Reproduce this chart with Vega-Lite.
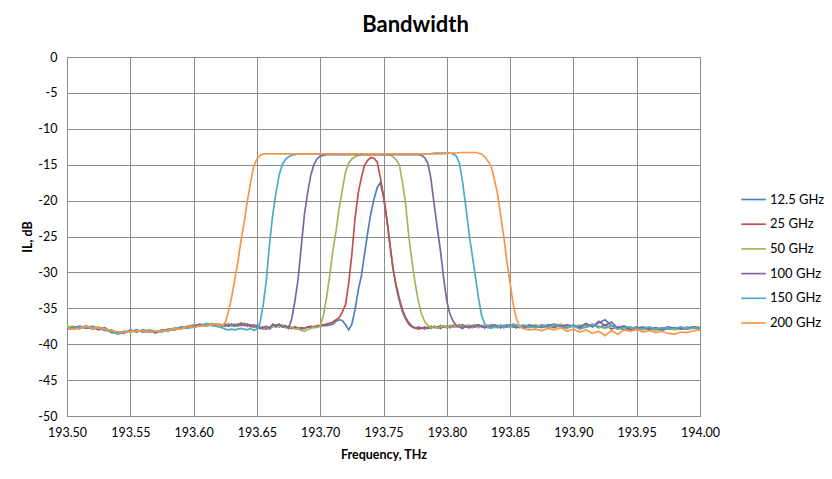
{
  "$schema": "https://vega.github.io/schema/vega-lite/v6.json",
  "autosize": {"type": "none"},
  "padding": {"left": 67, "top": 57, "right": 132, "bottom": 63},
  "width": 633,
  "height": 359,
  "background": "white",
  "title": {"text": "Bandwidth", "font": "Lato", "fontSize": 22, "fontWeight": "bold", "color": "#000000", "anchor": "middle", "frame": "group", "dx": 32, "offset": 14},
  "data": {"values": [
    {"f":193.500,"a":-37.9,"b":-37.7,"c":-37.6,"d":-37.8,"e":-37.9,"g":-37.7},
    {"f":193.505,"a":-37.6,"b":-37.9,"c":-37.5,"d":-37.7,"e":-37.8,"g":-37.9},
    {"f":193.510,"a":-37.8,"b":-37.6,"c":-37.9,"d":-37.5,"e":-37.6,"g":-37.8},
    {"f":193.515,"a":-37.5,"b":-37.7,"c":-37.4,"d":-37.8,"e":-37.7,"g":-37.5},
    {"f":193.520,"a":-37.9,"b":-37.6,"c":-37.8,"d":-37.6,"e":-37.5,"g":-37.8},
    {"f":193.525,"a":-37.7,"b":-38.0,"c":-37.6,"d":-37.9,"e":-37.8,"g":-37.7},
    {"f":193.530,"a":-38.1,"b":-37.8,"c":-38.0,"d":-37.7,"e":-38.0,"g":-37.9},
    {"f":193.535,"a":-38.0,"b":-38.3,"c":-38.1,"d":-38.4,"e":-38.2,"g":-38.1},
    {"f":193.540,"a":-38.5,"b":-38.3,"c":-38.6,"d":-38.4,"e":-38.6,"g":-38.3},
    {"f":193.545,"a":-38.2,"b":-38.4,"c":-38.2,"d":-38.5,"e":-38.3,"g":-38.4},
    {"f":193.550,"a":-38.3,"b":-38.1,"c":-38.3,"d":-38.0,"e":-38.2,"g":-38.2},
    {"f":193.555,"a":-38.0,"b":-38.2,"c":-38.1,"d":-38.3,"e":-38.0,"g":-38.2},
    {"f":193.560,"a":-38.3,"b":-38.1,"c":-38.2,"d":-38.0,"e":-38.3,"g":-38.1},
    {"f":193.565,"a":-38.1,"b":-38.3,"c":-38.0,"d":-38.2,"e":-38.1,"g":-38.3},
    {"f":193.570,"a":-38.4,"b":-38.2,"c":-38.3,"d":-38.4,"e":-38.2,"g":-38.2},
    {"f":193.575,"a":-38.0,"b":-38.2,"c":-38.1,"d":-38.0,"e":-38.3,"g":-38.1},
    {"f":193.580,"a":-38.1,"b":-37.9,"c":-38.2,"d":-38.0,"e":-37.9,"g":-38.1},
    {"f":193.585,"a":-37.8,"b":-38.0,"c":-37.7,"d":-37.9,"e":-38.0,"g":-37.8},
    {"f":193.590,"a":-37.9,"b":-37.6,"c":-37.8,"d":-37.7,"e":-37.6,"g":-37.9},
    {"f":193.595,"a":-37.5,"b":-37.7,"c":-37.5,"d":-37.6,"e":-37.8,"g":-37.5},
    {"f":193.600,"a":-37.4,"b":-37.6,"c":-37.3,"d":-37.5,"e":-37.6,"g":-37.7},
    {"f":193.605,"a":-37.5,"b":-37.3,"c":-37.4,"d":-37.2,"e":-37.5,"g":-37.4},
    {"f":193.610,"a":-37.2,"b":-37.4,"c":-37.3,"d":-37.4,"e":-37.1,"g":-37.5},
    {"f":193.615,"a":-37.4,"b":-37.2,"c":-37.1,"d":-37.3,"e":-37.4,"g":-37.2},
    {"f":193.6200,"a":-37.4,"b":-37.3,"c":-37.5,"d":-37.2,"e":-37.6,"g":-37.3},
    {"f":193.6225,"a":-37.3,"b":-37.5,"c":-37.3,"d":-37.4,"e":-37.7,"g":-37.4},
    {"f":193.6250,"a":-37.5,"b":-37.2,"c":-37.4,"d":-37.3,"e":-37.9,"g":-37.0},
    {"f":193.6275,"a":-37.2,"b":-37.4,"c":-37.1,"d":-37.5,"e":-38.0,"g":-35.5},
    {"f":193.6300,"a":-37.4,"b":-37.3,"c":-37.5,"d":-37.2,"e":-37.9,"g":-33.5},
    {"f":193.6325,"a":-37.3,"b":-37.5,"c":-37.2,"d":-37.4,"e":-38.0,"g":-31.0},
    {"f":193.6350,"a":-37.5,"b":-37.2,"c":-37.4,"d":-37.3,"e":-37.9,"g":-28.5},
    {"f":193.6375,"a":-37.2,"b":-37.4,"c":-37.0,"d":-37.1,"e":-37.8,"g":-25.5},
    {"f":193.6400,"a":-37.4,"b":-37.1,"c":-37.3,"d":-37.4,"e":-37.9,"g":-23.0},
    {"f":193.6425,"a":-37.3,"b":-37.5,"c":-37.2,"d":-37.2,"e":-38.0,"g":-20.0},
    {"f":193.6450,"a":-37.5,"b":-37.3,"c":-37.6,"d":-37.5,"e":-37.8,"g":-17.5},
    {"f":193.6475,"a":-37.6,"b":-37.6,"c":-37.4,"d":-37.3,"e":-38.1,"g":-15.2},
    {"f":193.6500,"a":-37.4,"b":-37.5,"c":-37.7,"d":-37.6,"e":-37.9,"g":-14.2},
    {"f":193.6525,"a":-37.7,"b":-37.8,"c":-37.5,"d":-37.8,"e":-37.0,"g":-13.7},
    {"f":193.6550,"a":-37.9,"b":-37.6,"c":-37.8,"d":-37.7,"e":-34.5,"g":-13.5},
    {"f":193.6575,"a":-37.8,"b":-37.9,"c":-37.6,"d":-37.5,"e":-31.0,"g":-13.5},
    {"f":193.6600,"a":-37.6,"b":-37.7,"c":-37.9,"d":-37.8,"e":-26.0,"g":-13.5},
    {"f":193.6625,"a":-37.5,"b":-37.4,"c":-37.6,"d":-37.2,"e":-22.0,"g":-13.5},
    {"f":193.6650,"a":-37.3,"b":-37.6,"c":-37.4,"d":-37.5,"e":-19.0,"g":-13.5},
    {"f":193.6675,"a":-37.6,"b":-37.3,"c":-37.5,"d":-37.2,"e":-16.5,"g":-13.5},
    {"f":193.6700,"a":-37.4,"b":-37.5,"c":-37.3,"d":-37.6,"e":-15.0,"g":-13.5},
    {"f":193.6725,"a":-37.5,"b":-37.7,"c":-37.6,"d":-37.4,"e":-14.3,"g":-13.5},
    {"f":193.6750,"a":-37.7,"b":-37.5,"c":-37.8,"d":-37.8,"e":-13.9,"g":-13.5},
    {"f":193.6775,"a":-37.8,"b":-37.8,"c":-37.6,"d":-36.5,"e":-13.7,"g":-13.5},
    {"f":193.6800,"a":-37.6,"b":-37.6,"c":-37.9,"d":-34.0,"e":-13.6,"g":-13.5},
    {"f":193.6825,"a":-37.7,"b":-37.9,"c":-37.8,"d":-31.0,"e":-13.5,"g":-13.5},
    {"f":193.6850,"a":-37.9,"b":-37.7,"c":-38.1,"d":-26.5,"e":-13.5,"g":-13.5},
    {"f":193.6875,"a":-37.8,"b":-37.8,"c":-38.2,"d":-22.0,"e":-13.5,"g":-13.5},
    {"f":193.6900,"a":-37.6,"b":-37.6,"c":-38.0,"d":-19.0,"e":-13.5,"g":-13.5},
    {"f":193.6925,"a":-37.7,"b":-37.5,"c":-37.8,"d":-16.5,"e":-13.5,"g":-13.5},
    {"f":193.6950,"a":-37.5,"b":-37.7,"c":-37.6,"d":-15.0,"e":-13.5,"g":-13.5},
    {"f":193.6975,"a":-37.6,"b":-37.4,"c":-37.7,"d":-14.2,"e":-13.5,"g":-13.5},
    {"f":193.7000,"a":-37.5,"b":-37.4,"c":-37.5,"d":-13.8,"e":-13.5,"g":-13.5},
    {"f":193.7025,"a":-37.4,"b":-37.3,"c":-36.0,"d":-13.7,"e":-13.5,"g":-13.5},
    {"f":193.7050,"a":-37.4,"b":-37.2,"c":-33.5,"d":-13.6,"e":-13.5,"g":-13.5},
    {"f":193.7075,"a":-37.3,"b":-37.1,"c":-30.5,"d":-13.6,"e":-13.5,"g":-13.5},
    {"f":193.7100,"a":-37.2,"b":-36.9,"c":-27.0,"d":-13.6,"e":-13.5,"g":-13.5},
    {"f":193.7125,"a":-36.8,"b":-36.6,"c":-24.3,"d":-13.6,"e":-13.5,"g":-13.5},
    {"f":193.7150,"a":-36.6,"b":-36.3,"c":-21.0,"d":-13.6,"e":-13.5,"g":-13.5},
    {"f":193.7175,"a":-36.7,"b":-35.5,"c":-18.5,"d":-13.6,"e":-13.5,"g":-13.5},
    {"f":193.7200,"a":-37.3,"b":-34.5,"c":-16.0,"d":-13.6,"e":-13.5,"g":-13.5},
    {"f":193.7225,"a":-38.0,"b":-31.5,"c":-14.8,"d":-13.6,"e":-13.5,"g":-13.5},
    {"f":193.7250,"a":-37.2,"b":-27.5,"c":-14.2,"d":-13.6,"e":-13.5,"g":-13.5},
    {"f":193.7275,"a":-35.2,"b":-22.5,"c":-13.9,"d":-13.6,"e":-13.5,"g":-13.5},
    {"f":193.7300,"a":-32.5,"b":-19.0,"c":-13.7,"d":-13.6,"e":-13.5,"g":-13.5},
    {"f":193.7325,"a":-30.5,"b":-16.8,"c":-13.6,"d":-13.6,"e":-13.5,"g":-13.5},
    {"f":193.7350,"a":-27.5,"b":-15.1,"c":-13.6,"d":-13.6,"e":-13.5,"g":-13.5},
    {"f":193.7375,"a":-24.5,"b":-14.4,"c":-13.6,"d":-13.6,"e":-13.5,"g":-13.5},
    {"f":193.7400,"a":-21.8,"b":-14.0,"c":-13.6,"d":-13.6,"e":-13.5,"g":-13.5},
    {"f":193.7425,"a":-19.8,"b":-14.1,"c":-13.6,"d":-13.6,"e":-13.5,"g":-13.5},
    {"f":193.7450,"a":-18.2,"b":-14.6,"c":-13.6,"d":-13.6,"e":-13.5,"g":-13.5},
    {"f":193.7475,"a":-17.5,"b":-16.8,"c":-13.6,"d":-13.6,"e":-13.5,"g":-13.5},
    {"f":193.7500,"a":-19.5,"b":-19.3,"c":-13.6,"d":-13.6,"e":-13.5,"g":-13.5},
    {"f":193.7525,"a":-22.5,"b":-22.3,"c":-13.6,"d":-13.6,"e":-13.5,"g":-13.5},
    {"f":193.7550,"a":-26.0,"b":-26.0,"c":-13.6,"d":-13.6,"e":-13.5,"g":-13.5},
    {"f":193.7575,"a":-29.5,"b":-29.4,"c":-13.9,"d":-13.6,"e":-13.5,"g":-13.5},
    {"f":193.7600,"a":-32.0,"b":-31.8,"c":-14.3,"d":-13.6,"e":-13.5,"g":-13.5},
    {"f":193.7625,"a":-34.0,"b":-33.6,"c":-15.0,"d":-13.6,"e":-13.5,"g":-13.5},
    {"f":193.7650,"a":-35.5,"b":-35.2,"c":-17.5,"d":-13.6,"e":-13.5,"g":-13.5},
    {"f":193.7675,"a":-36.5,"b":-36.3,"c":-20.5,"d":-13.6,"e":-13.5,"g":-13.5},
    {"f":193.7700,"a":-37.2,"b":-37.0,"c":-25.0,"d":-13.6,"e":-13.5,"g":-13.5},
    {"f":193.7725,"a":-37.6,"b":-37.5,"c":-28.5,"d":-13.6,"e":-13.5,"g":-13.5},
    {"f":193.7750,"a":-37.8,"b":-37.7,"c":-31.5,"d":-13.6,"e":-13.5,"g":-13.5},
    {"f":193.7775,"a":-37.6,"b":-37.9,"c":-34.0,"d":-13.6,"e":-13.5,"g":-13.5},
    {"f":193.7800,"a":-37.7,"b":-37.8,"c":-35.8,"d":-13.7,"e":-13.5,"g":-13.5},
    {"f":193.7825,"a":-37.9,"b":-37.6,"c":-36.8,"d":-14.0,"e":-13.5,"g":-13.5},
    {"f":193.7850,"a":-37.6,"b":-37.8,"c":-37.4,"d":-14.8,"e":-13.5,"g":-13.5},
    {"f":193.7875,"a":-37.8,"b":-37.5,"c":-37.7,"d":-17.0,"e":-13.5,"g":-13.5},
    {"f":193.7900,"a":-37.5,"b":-37.7,"c":-37.5,"d":-20.5,"e":-13.4,"g":-13.5},
    {"f":193.7925,"a":-37.7,"b":-37.6,"c":-37.8,"d":-23.8,"e":-13.4,"g":-13.5},
    {"f":193.7950,"a":-37.4,"b":-37.8,"c":-37.6,"d":-27.0,"e":-13.4,"g":-13.5},
    {"f":193.7975,"a":-37.6,"b":-37.5,"c":-37.4,"d":-30.8,"e":-13.4,"g":-13.5},
    {"f":193.8000,"a":-37.5,"b":-37.7,"c":-37.7,"d":-34.0,"e":-13.4,"g":-13.4},
    {"f":193.8025,"a":-37.7,"b":-37.4,"c":-37.5,"d":-35.8,"e":-13.4,"g":-13.4},
    {"f":193.8050,"a":-37.4,"b":-37.6,"c":-37.3,"d":-36.8,"e":-13.5,"g":-13.4},
    {"f":193.8075,"a":-37.6,"b":-37.5,"c":-37.6,"d":-37.4,"e":-13.8,"g":-13.4},
    {"f":193.8100,"a":-37.5,"b":-37.3,"c":-37.4,"d":-37.6,"e":-14.8,"g":-13.3},
    {"f":193.8125,"a":-37.3,"b":-37.6,"c":-37.7,"d":-37.8,"e":-17.5,"g":-13.3},
    {"f":193.8150,"a":-37.6,"b":-37.4,"c":-37.5,"d":-37.5,"e":-20.8,"g":-13.3},
    {"f":193.8175,"a":-37.4,"b":-37.7,"c":-37.3,"d":-37.7,"e":-24.5,"g":-13.3},
    {"f":193.8200,"a":-37.7,"b":-37.5,"c":-37.6,"d":-37.4,"e":-27.5,"g":-13.3},
    {"f":193.8225,"a":-37.5,"b":-37.3,"c":-37.4,"d":-37.6,"e":-30.5,"g":-13.3},
    {"f":193.8250,"a":-37.3,"b":-37.6,"c":-37.7,"d":-37.3,"e":-33.5,"g":-13.4},
    {"f":193.8275,"a":-37.6,"b":-37.4,"c":-37.5,"d":-37.5,"e":-36.0,"g":-13.5},
    {"f":193.8300,"a":-37.4,"b":-37.7,"c":-37.3,"d":-37.7,"e":-37.2,"g":-13.9},
    {"f":193.8325,"a":-37.7,"b":-37.5,"c":-37.6,"d":-37.4,"e":-37.6,"g":-14.5},
    {"f":193.8350,"a":-37.5,"b":-37.3,"c":-37.4,"d":-37.6,"e":-37.8,"g":-15.2},
    {"f":193.8375,"a":-37.3,"b":-37.6,"c":-37.7,"d":-37.3,"e":-37.5,"g":-17.0},
    {"f":193.8400,"a":-37.6,"b":-37.4,"c":-37.5,"d":-37.5,"e":-37.7,"g":-19.0},
    {"f":193.8425,"a":-37.4,"b":-37.7,"c":-37.3,"d":-37.7,"e":-37.4,"g":-22.0},
    {"f":193.8450,"a":-37.7,"b":-37.5,"c":-37.6,"d":-37.4,"e":-37.6,"g":-25.0},
    {"f":193.8475,"a":-37.5,"b":-37.3,"c":-37.4,"d":-37.6,"e":-37.3,"g":-28.5},
    {"f":193.8500,"a":-37.3,"b":-37.6,"c":-37.7,"d":-37.3,"e":-37.5,"g":-31.5},
    {"f":193.8525,"a":-37.6,"b":-37.4,"c":-37.5,"d":-37.5,"e":-37.2,"g":-34.5},
    {"f":193.8550,"a":-37.4,"b":-37.7,"c":-37.3,"d":-37.7,"e":-37.4,"g":-36.5},
    {"f":193.8575,"a":-37.7,"b":-37.5,"c":-37.6,"d":-37.4,"e":-37.6,"g":-37.5},
    {"f":193.860,"a":-37.5,"b":-37.7,"c":-37.4,"d":-37.6,"e":-37.3,"g":-37.8},
    {"f":193.865,"a":-37.7,"b":-37.4,"c":-37.6,"d":-37.3,"e":-37.5,"g":-38.0},
    {"f":193.870,"a":-37.4,"b":-37.6,"c":-37.3,"d":-37.5,"e":-37.7,"g":-37.9},
    {"f":193.875,"a":-37.6,"b":-37.3,"c":-37.5,"d":-37.7,"e":-37.4,"g":-38.1},
    {"f":193.880,"a":-37.3,"b":-37.5,"c":-37.7,"d":-37.4,"e":-37.6,"g":-37.8},
    {"f":193.885,"a":-37.5,"b":-37.7,"c":-37.4,"d":-37.2,"e":-37.3,"g":-38.0},
    {"f":193.890,"a":-37.4,"b":-37.3,"c":-37.2,"d":-37.5,"e":-37.6,"g":-37.7},
    {"f":193.895,"a":-37.7,"b":-37.6,"c":-37.5,"d":-37.3,"e":-37.8,"g":-38.2},
    {"f":193.900,"a":-37.3,"b":-37.4,"c":-37.6,"d":-37.5,"e":-37.4,"g":-37.9},
    {"f":193.905,"a":-37.6,"b":-37.8,"c":-37.3,"d":-37.6,"e":-37.9,"g":-38.3},
    {"f":193.910,"a":-37.2,"b":-37.5,"c":-37.7,"d":-37.1,"e":-37.6,"g":-38.0},
    {"f":193.915,"a":-37.5,"b":-37.2,"c":-37.4,"d":-37.6,"e":-37.3,"g":-38.5},
    {"f":193.920,"a":-37.0,"b":-37.7,"c":-37.6,"d":-36.8,"e":-37.5,"g":-38.2},
    {"f":193.925,"a":-36.6,"b":-37.3,"c":-37.8,"d":-37.4,"e":-37.7,"g":-38.8},
    {"f":193.930,"a":-37.4,"b":-37.9,"c":-37.5,"d":-36.9,"e":-37.4,"g":-38.1},
    {"f":193.935,"a":-37.7,"b":-37.6,"c":-37.9,"d":-37.8,"e":-37.9,"g":-38.6},
    {"f":193.940,"a":-37.5,"b":-38.0,"c":-37.6,"d":-37.5,"e":-37.7,"g":-38.0},
    {"f":193.945,"a":-37.8,"b":-37.7,"c":-37.9,"d":-38.0,"e":-37.6,"g":-38.2},
    {"f":193.950,"a":-37.6,"b":-37.9,"c":-37.7,"d":-37.8,"e":-38.0,"g":-37.9},
    {"f":193.955,"a":-37.9,"b":-37.7,"c":-38.0,"d":-37.6,"e":-37.8,"g":-38.3},
    {"f":193.960,"a":-37.7,"b":-38.0,"c":-37.8,"d":-37.9,"e":-37.6,"g":-38.1},
    {"f":193.965,"a":-37.9,"b":-37.8,"c":-38.1,"d":-37.7,"e":-37.9,"g":-38.4},
    {"f":193.970,"a":-37.8,"b":-38.0,"c":-37.9,"d":-38.0,"e":-37.7,"g":-38.2},
    {"f":193.975,"a":-37.6,"b":-37.8,"c":-37.7,"d":-37.8,"e":-37.9,"g":-38.5},
    {"f":193.980,"a":-37.8,"b":-37.9,"c":-38.0,"d":-37.7,"e":-37.8,"g":-38.6},
    {"f":193.985,"a":-37.7,"b":-37.7,"c":-37.8,"d":-37.9,"e":-37.6,"g":-38.3},
    {"f":193.990,"a":-37.9,"b":-37.8,"c":-37.6,"d":-37.8,"e":-37.9,"g":-38.4},
    {"f":193.995,"a":-37.7,"b":-37.6,"c":-37.8,"d":-37.6,"e":-37.7,"g":-38.1},
    {"f":194.000,"a":-37.8,"b":-37.7,"c":-37.6,"d":-37.9,"e":-37.8,"g":-38.0}
  ]},
  "transform": [
    {"fold": ["a", "b", "c", "d", "e", "g"], "as": ["s", "v"]}
  ],
  "mark": {"type": "line", "strokeWidth": 1.7, "interpolate": "linear"},
  "encoding": {
    "x": {
      "field": "f", "type": "quantitative",
      "scale": {"domain": [193.5, 194.0], "zero": false, "nice": false},
      "axis": {
        "title": "Frequency, THz",
        "values": [193.5, 193.55, 193.6, 193.65, 193.7, 193.75, 193.8, 193.85, 193.9, 193.95, 194.0],
        "format": ".2f",
        "labelFont": "Lato", "labelFontSize": 12.5, "labelColor": "#000000", "labelPadding": 10,
        "titleFont": "Lato", "titleFontSize": 12.5, "titleFontWeight": "bold", "titleColor": "#000000", "titlePadding": 10,
        "ticks": false, "grid": true, "gridColor": "#8c8c8c", "gridWidth": 1,
        "domainColor": "#8c8c8c", "domainWidth": 1, "labelFlush": false
      }
    },
    "y": {
      "field": "v", "type": "quantitative",
      "scale": {"domain": [-50, 0], "nice": false},
      "axis": {
        "title": "IL, dB",
        "values": [0, -5, -10, -15, -20, -25, -30, -35, -40, -45, -50],
        "labelExpr": "toString(datum.value)",
        "labelFont": "Lato", "labelFontSize": 12.5, "labelColor": "#000000", "labelPadding": 10,
        "titleFont": "Lato", "titleFontSize": 12.5, "titleFontWeight": "bold", "titleColor": "#000000", "titlePadding": 3,
        "ticks": false, "grid": true, "gridColor": "#8c8c8c", "gridWidth": 1,
        "domainColor": "#8c8c8c", "domainWidth": 1
      }
    },
    "color": {
      "field": "s", "type": "nominal",
      "scale": {"domain": ["a", "b", "c", "d", "e", "g"], "range": ["#4F81BD", "#C0504D", "#9BBB59", "#8064A2", "#4BACC6", "#F79646"]},
      "legend": {
        "title": null,
        "orient": "none", "legendX": 673, "legendY": 129,
        "symbolType": "stroke", "symbolSize": 600, "symbolStrokeWidth": 1.7,
        "labelExpr": "{'a':'12.5 GHz','b':'25 GHz','c':'50 GHz','d':'100 GHz','e':'150 GHz','g':'200 GHz'}[datum.label]",
        "labelFont": "Lato", "labelFontSize": 13, "labelColor": "#000000",
        "rowPadding": 3.7, "labelOffset": 3
      }
    }
  },
  "config": {
    "view": {"stroke": "#8c8c8c", "strokeWidth": 1}
  }
}
